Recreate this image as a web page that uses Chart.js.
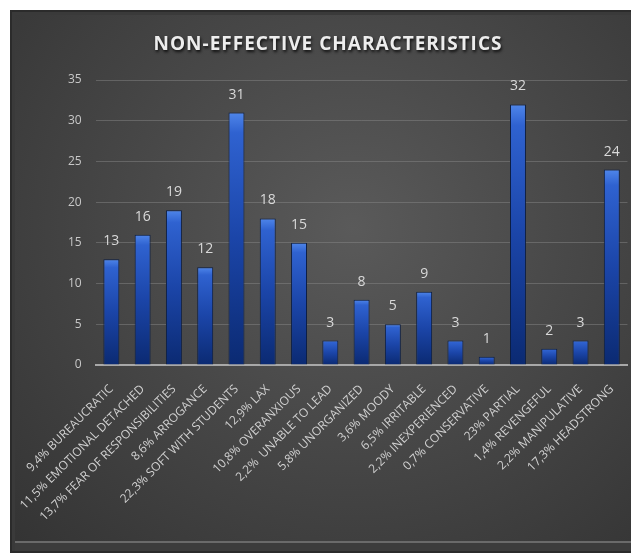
<!DOCTYPE html>
<html lang="en">
<head>
    <meta charset="UTF-8">
    <title>Non-effective characteristics</title>
    <script src="https://cdn.jsdelivr.net/npm/chart.js"></script>
    <style>
        body { margin: 0; background: #fff; }
        .panel {
            position: absolute;
            left: 10px; top: 10px;
            width: 621px; height: 543px;
            box-sizing: border-box;
            border: 2px solid #2b2b2b;
            border-right: none;
            background: radial-gradient(ellipse at 55% 40%, #5a5a5a 0%, #484848 45%, #333 100%);
            box-shadow: inset 3px 3px 0 #3a3a3a, inset 0 -8px 0 #3c3c3c, inset 0 -10px 0 #6a6a6a;
            overflow: hidden;
        }
        .panel canvas { position: absolute; left: 0; top: 0; }
    </style>
</head>
<body>
    <div class="panel">
        <canvas id="chart" width="619" height="539"></canvas>
    </div>

    <script>
        // categories and values
        var categories = [
            '9,4% BUREAUCRATIC', '11,5% EMOTIONAL DETACHED', '13,7% FEAR OF RESPONSIBILITIES',
            '8,6% ARROGANCE', '22,3% SOFT WITH STUDENTS', '12,9% LAX', '10,8% OVERANXIOUS',
            '2,2%  UNABLE TO LEAD', '5,8% UNORGANIZED', '3,6% MOODY', '6,5% IRRITABLE',
            '2,2% INEXPERIENCED', '0,7% CONSERVATIVE', '23% PARTIAL', '1,4% REVENGEFUL',
            '2,2% MANIPULATIVE', '17,3% HEADSTRONG'
        ];
        var counts = [13, 16, 19, 12, 31, 18, 15, 3, 8, 5, 9, 3, 1, 32, 2, 3, 24];
        var yTicks = [0, 5, 10, 15, 20, 25, 30, 35];

        // gradient per bar: light blue on top, dark navy at the base
        function barGradient(ctx) {
            var chart = ctx.chart;
            var y = chart.scales.y;
            if (!chart.chartArea || !y || ctx.raw === undefined) return '#1f4fb0';
            var top = y.getPixelForValue(ctx.raw);
            var base = y.getPixelForValue(0);
            if (!isFinite(top) || !isFinite(base) || top === base) return '#1f4fb0';
            var g = chart.ctx.createLinearGradient(0, top, 0, base);
            g.addColorStop(0, '#4f86ea');
            g.addColorStop(0.08, '#2f62d0');
            g.addColorStop(0.5, '#1b45a8');
            g.addColorStop(1, '#0b2a72');
            return g;
        }

        // value labels above the bars
        var valueLabels = {
            id: 'valueLabels',
            afterDatasetsDraw: function (chart) {
                var c = chart.ctx;
                var meta = chart.getDatasetMeta(0);
                c.save();
                c.fillStyle = '#d9d9d9';
                c.font = '14px "Open Sans", sans-serif';
                c.textAlign = 'center';
                c.textBaseline = 'bottom';
                meta.data.forEach(function (bar, i) {
                    c.fillText(counts[i], bar.x, bar.y - 11);
                });
                c.restore();
            }
        };

        // title with a soft shadow
        var shadowTitle = {
            id: 'shadowTitle',
            afterDraw: function (chart) {
                var c = chart.ctx;
                c.save();
                c.font = 'bold 19px "Open Sans", sans-serif';
                c.letterSpacing = '1px';
                c.textAlign = 'center';
                c.textBaseline = 'middle';
                c.shadowColor = 'rgba(0,0,0,0.8)';
                c.shadowOffsetX = 1;
                c.shadowOffsetY = 2;
                c.shadowBlur = 3;
                c.fillStyle = '#ededed';
                c.fillText('NON-EFFECTIVE CHARACTERISTICS', 316, 33);
                c.restore();
            }
        };

        var chart = new Chart(document.getElementById('chart'), {
            type: 'bar',
            data: {
                labels: categories,
                datasets: [{
                    data: counts,
                    backgroundColor: barGradient,
                    borderColor: '#0d1f45',
                    borderWidth: 1,
                    barPercentage: 0.6,
                    categoryPercentage: 0.85
                }]
            },
            options: {
                responsive: false,
                animation: false,
                layout: { padding: { top: 68, right: 0, left: 42, bottom: 4 } },
                plugins: {
                    legend: { display: false },
                    tooltip: { enabled: false },
                    title: { display: false }
                },
                scales: {
                    x: {
                        grid: { display: false },
                        border: { color: '#a8a8a8', width: 2 },
                        afterFit: function (axis) {
                            axis.height = 182;
                        },
                        ticks: {
                            color: '#d0d0d0',
                            font: { size: 12, family: '"Open Sans", sans-serif' },
                            minRotation: 45,
                            maxRotation: 45,
                            autoSkip: false,
                            padding: 9
                        }
                    },
                    y: {
                        min: 0,
                        max: 35,
                        afterBuildTicks: function (axis) {
                            axis.ticks = yTicks.map(function (v) { return { value: v }; });
                        },
                        grid: { color: 'rgba(140,140,140,0.45)', lineWidth: 1, drawTicks: false },
                        border: { display: false },
                        ticks: {
                            color: '#c8c8c8',
                            font: { size: 12, family: '"Open Sans", sans-serif' },
                            padding: 14
                        }
                    }
                }
            },
            plugins: [valueLabels, shadowTitle]
        });
    </script>
</body>
</html>
